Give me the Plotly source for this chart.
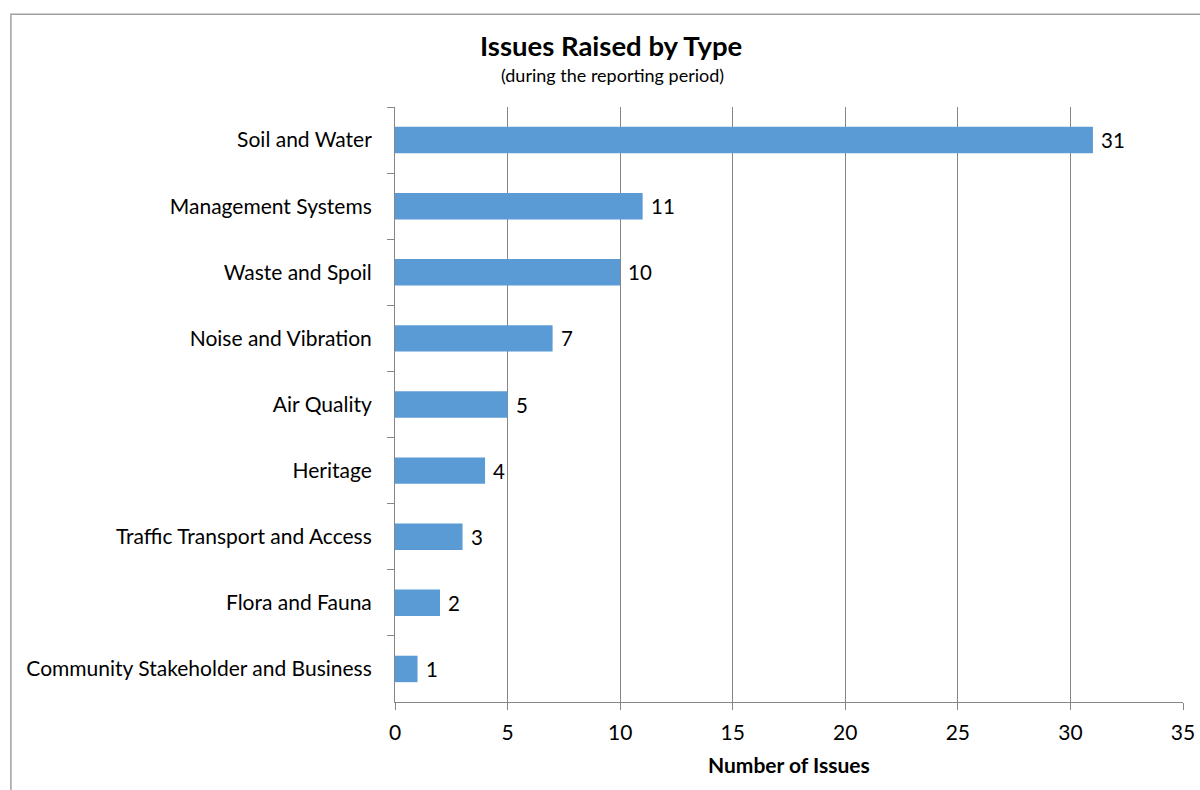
import plotly.graph_objects as go

# Issue categories (top to bottom) and their counts
categories = [
    "Soil and Water",
    "Management Systems",
    "Waste and Spoil",
    "Noise and Vibration",
    "Air Quality",
    "Heritage",
    "Traffic Transport and Access",
    "Flora and Fauna",
    "Community Stakeholder and Business",
]
issue_counts = [31, 11, 10, 7, 5, 4, 3, 2, 1]
x_ticks = [0, 5, 10, 15, 20, 25, 30, 35]

FONT = "Lato"
BAR_COLOR = "#5B9BD5"
GRID_COLOR = "#868686"

W, H = 1200, 790
left, right, top, bottom = 394.7, 1182.9, 107.3, 702.3

fig = go.Figure(
    go.Bar(
        x=issue_counts,
        y=categories,
        orientation="h",
        marker=dict(color=BAR_COLOR, line=dict(width=0)),
        width=0.4,
        hoverinfo="x+y",
    )
)

# value labels just past the end of each bar
for cat, val in zip(categories, issue_counts):
    fig.add_annotation(
        x=val, y=cat, text=str(val), showarrow=False,
        xanchor="left", yanchor="middle", xshift=6,
        font=dict(family=FONT, size=20.5, color="#000000"),
    )

pw = right - left
ph = bottom - top

# chart frame (top and left edges fall inside the canvas)
fig.add_shape(
    type="rect", xref="paper", yref="paper",
    x0=(10.5 - left) / pw, x1=(1210 - left) / pw,
    y0=(bottom - 800) / ph, y1=(bottom - 14.5) / ph,
    line=dict(color="#A0A0A0", width=1.5), fillcolor="rgba(0,0,0,0)",
    layer="below",
)

# title and subtitle
fig.add_annotation(
    x=(611 - left) / pw, y=(bottom - 46) / ph, xref="paper", yref="paper",
    text="<b>Issues Raised by Type</b>", showarrow=False,
    xanchor="center", yanchor="middle",
    font=dict(family=FONT, size=27.5, color="#000000"),
)
fig.add_annotation(
    x=(612 - left) / pw, y=(bottom - 75) / ph, xref="paper", yref="paper",
    text="(during the reporting period)", showarrow=False,
    xanchor="center", yanchor="middle",
    font=dict(family=FONT, size=18, color="#000000"),
)
# axis title
fig.add_annotation(
    x=(789 - left) / pw, y=(bottom - 765) / ph, xref="paper", yref="paper",
    text="<b>Number of Issues</b>", showarrow=False,
    xanchor="center", yanchor="middle",
    font=dict(family=FONT, size=21, color="#000000"),
)

fig.update_layout(
    width=W, height=H,
    margin=dict(l=left, r=W - right, t=top, b=H - bottom, pad=0, autoexpand=False),
    paper_bgcolor="white", plot_bgcolor="white",
    showlegend=False,
    font=dict(family=FONT, size=21, color="#000000"),
    xaxis=dict(
        range=[0, 35], tickvals=x_ticks, ticktext=[str(v) for v in x_ticks],
        showgrid=True, gridcolor=GRID_COLOR, gridwidth=1,
        showline=True, linecolor=GRID_COLOR, linewidth=1,
        ticks="outside", ticklen=7, tickcolor=GRID_COLOR,
        zeroline=False, ticklabelstandoff=5, automargin=False,
        tickfont=dict(family=FONT, size=21),
    ),
    yaxis=dict(
        type="category", autorange="reversed",
        showgrid=False, showline=True, linecolor=GRID_COLOR, linewidth=1,
        ticks="outside", ticklen=7, tickcolor=GRID_COLOR,
        tickson="boundaries", ticklabelstandoff=18, automargin=False,
        tickfont=dict(family=FONT, size=21),
    ),
)

fig.write_html("out.html")
